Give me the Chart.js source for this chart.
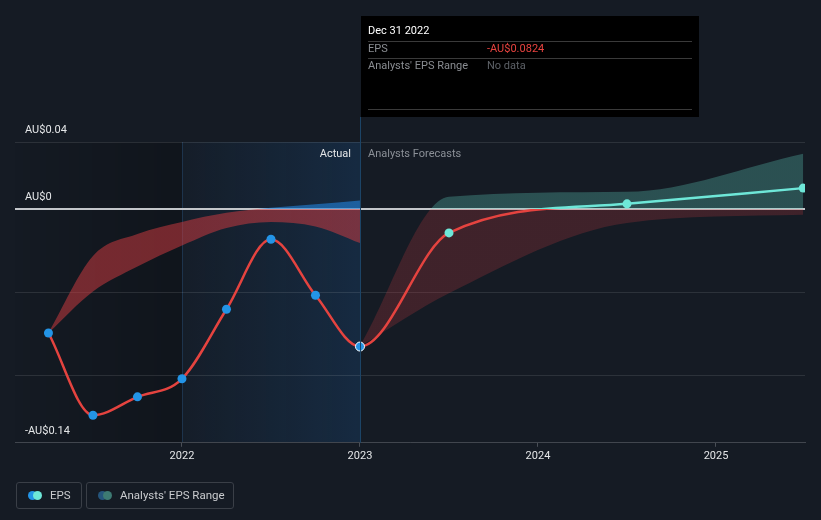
<!DOCTYPE html>
<html>
<head>
<meta charset="utf-8">
<script src="https://cdn.jsdelivr.net/npm/chart.js@4"></script>
<style>
  html, body { margin: 0; padding: 0; background: #151b24; }
  #wrap { position: relative; width: 821px; height: 520px; font-family: Roboto, sans-serif; }
  #chart { position: absolute; left: 0; top: 0; }
  .legend-item {
    position: absolute; top: 482px; height: 27px; box-sizing: border-box;
    border: 1px solid #3a3f47; border-radius: 3px;
    color: #c9cbce; font-size: 11.5px; line-height: 25px;
  }
  .dot { position: absolute; top: 8px; width: 9px; height: 9px; border-radius: 50%; }
</style>
</head>
<body>
<div id="wrap">
  <canvas id="chart" width="821" height="520"></canvas>
  <div class="legend-item" style="left:16px; width:66px;">
    <span class="dot" style="left:11px; background:#2394e6;"></span>
    <span class="dot" style="left:16px; background:#6ee7d8;"></span>
    <span style="position:absolute; left:33px;">EPS</span>
  </div>
  <div class="legend-item" style="left:86px; width:148px;">
    <span class="dot" style="left:11px; background:#25557c;"></span>
    <span class="dot" style="left:16px; background:#3d7a73;"></span>
    <span style="position:absolute; left:33px;">Analysts' EPS Range</span>
  </div>
</div>

<script>
// --- data ---
const histYears = [2021.25, 2021.5, 2021.75, 2022.0, 2022.25, 2022.5, 2022.75, 2023.0];
const histEps = [-0.0743, -0.1235, -0.1125, -0.1017, -0.0601, -0.0182, -0.0517, -0.0824];
const pastRangeHigh = [-0.0743, -0.0282, -0.0150, -0.0078, -0.0024, 0.0006, 0.0027, 0.0050];
const pastRangeLow = [-0.0743, -0.0495, -0.0345, -0.0219, -0.0114, -0.0078, -0.0105, -0.0204];

// forecast starts from the last reported value
const fcYears = [2023.0, 2023.5, 2024.5, 2025.49];
const fcEps = [-0.0824, -0.0144, 0.0030, 0.0124];
const fcRangeHigh = [-0.0824, 0.0072, 0.0102, 0.0330];
const fcRangeLow = [-0.0824, -0.0505, -0.0084, -0.0036];

const yearTicks = [2022, 2023, 2024, 2025];
const gridValues = [-0.14, -0.1, -0.05, 0, 0.04];
const yLabels = [
  { value: 0.04, text: 'AU$0.04' },
  { value: 0, text: 'AU$0' },
  { value: -0.14, text: '-AU$0.14' }
];

const xMin = 2021.062, xMax = 2025.5;
const todayYear = 2023.0;

const tipTitle = 'Dec 31 2022';
const tipRows = [
  { label: 'EPS', value: '-AU$0.0824', color: '#e8433f' },
  { label: "Analysts' EPS Range", value: 'No data', color: '#5d6167' }
];

const RED = '#e5433f';
const TEAL = '#6ee7d8';
const BLUE = '#2394e6';

function pts(xs, ys) { return xs.map((x, i) => ({ x: x, y: ys[i] })); }

// one continuous EPS line: history then forecast (skip the shared point)
const epsPoints = pts(histYears, histEps).concat(pts(fcYears.slice(1), fcEps.slice(1)));
const nHist = histYears.length;

// colour split at zero: upper colour above the AU$0 line, lower colour below
function zeroSplit(upper, lower) {
  return function(context) {
    const chart = context.chart;
    const area = chart.chartArea;
    if (!area) return lower;
    const y0 = chart.scales.y.getPixelForValue(0);
    const g = chart.ctx.createLinearGradient(0, area.top, 0, area.bottom);
    let s = (y0 - area.top) / (area.bottom - area.top);
    s = Math.min(1, Math.max(0, s));
    g.addColorStop(0, upper);
    g.addColorStop(s, upper);
    g.addColorStop(s, lower);
    g.addColorStop(1, lower);
    return g;
  };
}

const backdrop = {
  id: 'backdrop',
  beforeDraw(chart) {
    const { ctx, chartArea: a, scales } = chart;
    const x22 = scales.x.getPixelForValue(2022);
    const xNow = scales.x.getPixelForValue(todayYear);
    ctx.save();
    // darker past region
    let g = ctx.createLinearGradient(a.left, 0, x22, 0);
    g.addColorStop(0, 'rgba(0,0,0,0.02)');
    g.addColorStop(1, 'rgba(0,0,0,0.22)');
    ctx.fillStyle = g;
    ctx.fillRect(a.left, a.top, x22 - a.left, a.bottom - a.top);
    // last-year highlight
    g = ctx.createLinearGradient(x22, 0, xNow, 0);
    g.addColorStop(0, 'rgba(30,120,210,0.03)');
    g.addColorStop(1, 'rgba(30,120,210,0.17)');
    ctx.fillStyle = g;
    ctx.fillRect(x22, a.top, xNow - x22, a.bottom - a.top);
    ctx.strokeStyle = 'rgba(40,80,120,0.45)';
    ctx.lineWidth = 1;
    ctx.beginPath();
    ctx.moveTo(Math.round(x22) + 0.5, a.top);
    ctx.lineTo(Math.round(x22) + 0.5, a.bottom);
    ctx.stroke();
    ctx.restore();
  },
  afterDatasetsDraw(chart) {
    const { ctx, chartArea: a, scales } = chart;
    const xNow = scales.x.getPixelForValue(todayYear);
    ctx.save();
    ctx.strokeStyle = '#1c4466';
    ctx.lineWidth = 1;
    ctx.beginPath();
    ctx.moveTo(Math.round(xNow) + 0.5, 117);
    ctx.lineTo(Math.round(xNow) + 0.5, a.bottom);
    ctx.stroke();

    ctx.font = '11px Roboto, sans-serif';
    ctx.textBaseline = 'middle';
    // y labels inside plot
    ctx.fillStyle = '#e4e6e8';
    ctx.textAlign = 'left';
    yLabels.forEach(l => {
      ctx.fillText(l.text, a.left + 10, scales.y.getPixelForValue(l.value) - 12);
    });
    // section labels
    const ySec = a.top + 12;
    ctx.textAlign = 'right';
    ctx.fillStyle = '#e4e6e8';
    ctx.fillText('Actual', xNow - 9, ySec);
    ctx.textAlign = 'left';
    ctx.fillStyle = '#8b9097';
    ctx.fillText('Analysts Forecasts', xNow + 8, ySec);

    // tooltip box
    const bx = Math.round(xNow) + 1, by = 16, bw = 338, bh = 101;
    ctx.fillStyle = '#000';
    ctx.fillRect(bx, by, bw, bh);
    ctx.fillStyle = '#ffffff';
    ctx.fillText(tipTitle, bx + 7, by + 15);
    ctx.strokeStyle = '#3a3a3a';
    const sep = [by + 25.5, by + 42.5, by + 93.5];
    sep.forEach(y => {
      ctx.beginPath();
      ctx.moveTo(bx + 7, y);
      ctx.lineTo(bx + bw - 7, y);
      ctx.stroke();
    });
    tipRows.forEach((r, i) => {
      const y = by + 33 + i * 17;
      ctx.fillStyle = '#8a8d92';
      ctx.fillText(r.label, bx + 7, y);
      ctx.fillStyle = r.color;
      ctx.fillText(r.value, bx + 126, y);
    });
    ctx.restore();
  }
};

const bandCommon = {
  borderWidth: 0,
  pointRadius: 0,
  pointHoverRadius: 0,
  cubicInterpolationMode: 'monotone',
  order: 3
};

new Chart(document.getElementById('chart'), {
  type: 'line',
  data: {
    datasets: [
      Object.assign({
        label: 'pastHigh',
        data: pts(histYears, pastRangeHigh),
        fill: '+1',
        backgroundColor: zeroSplit('rgba(33,130,220,0.6)', 'rgba(215,60,65,0.5)')
      }, bandCommon),
      Object.assign({
        label: 'pastLow',
        data: pts(histYears, pastRangeLow),
        fill: false
      }, bandCommon),
      Object.assign({
        label: 'fcHigh',
        data: pts(fcYears, fcRangeHigh),
        fill: '+1',
        backgroundColor: zeroSplit('rgba(100,220,200,0.28)', 'rgba(215,60,65,0.22)')
      }, bandCommon),
      Object.assign({
        label: 'fcLow',
        data: pts(fcYears, fcRangeLow),
        fill: false
      }, bandCommon),
      {
        label: 'EPS',
        data: epsPoints,
        borderColor: zeroSplit(TEAL, RED),
        borderWidth: 2.5,
        cubicInterpolationMode: 'monotone',
        pointRadius: 4.5,
        pointBackgroundColor: epsPoints.map((p, i) => i < nHist ? BLUE : TEAL),
        pointBorderColor: epsPoints.map((p, i) => i === nHist - 1 ? '#ffffff' : 'rgba(0,0,0,0)'),
        pointBorderWidth: epsPoints.map((p, i) => i === nHist - 1 ? 1 : 0),
        fill: false,
        order: 1
      }
    ]
  },
  options: {
    responsive: false,
    animation: false,
    events: [],
    layout: { padding: { left: 15, right: 16, top: 142, bottom: 54 } },
    plugins: { legend: { display: false }, tooltip: { enabled: false } },
    scales: {
      x: {
        type: 'linear',
        min: xMin,
        max: xMax,
        afterBuildTicks(scale) { scale.ticks = yearTicks.map(v => ({ value: v })); },
        ticks: {
          color: '#e4e6e8',
          font: { family: 'Roboto', size: 11 },
          padding: 3,
          maxRotation: 0,
          callback: v => String(v)
        },
        grid: { drawOnChartArea: false, drawTicks: true, tickLength: 4, color: '#4a4f57' },
        border: { display: true, color: '#41464e' }
      },
      y: {
        min: -0.14,
        max: 0.04,
        afterBuildTicks(scale) { scale.ticks = gridValues.map(v => ({ value: v })); },
        ticks: { display: false },
        grid: {
          drawTicks: false,
          color: c => c.tick && c.tick.value === 0 ? '#c3c6ca' : 'rgba(255,255,255,0.1)',
          lineWidth: c => c.tick && c.tick.value === 0 ? 2 : 1
        },
        border: { display: false }
      }
    }
  },
  plugins: [backdrop]
});
</script>
</body>
</html>
